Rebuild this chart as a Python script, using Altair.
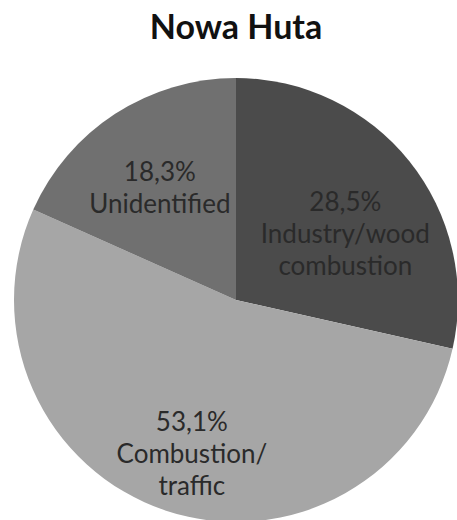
import altair as alt
import pandas as pd

# Source apportionment shares for Nowa Huta (percent)
categories = ["Industry/wood combustion", "Combustion/traffic", "Unidentified"]
label_lines = [["Industry/wood", "combustion"], ["Combustion/", "traffic"], ["Unidentified"]]
shares = [28.5, 53.1, 18.3]
colors = ["#4b4b4b", "#a6a6a6", "#707070"]


def pct(v):
    return f"{v:.1f}".replace(".", ",") + "%"


df = pd.DataFrame({
    "category": categories,
    "share": shares,
    "order": list(range(len(categories))),
    "label": [[pct(v)] + lines for v, lines in zip(shares, label_lines)],
})

W, H = 457, 520
CX, CY, R = 236, 300, 222

base = alt.Chart(df).encode(
    theta=alt.Theta("share:Q", stack=True),
    order=alt.Order("order:Q"),
)

pie = base.mark_arc(outerRadius=R).encode(
    x=alt.value(CX),
    y=alt.value(CY),
    color=alt.Color("category:N", scale=alt.Scale(domain=categories, range=colors), legend=None),
)

labels = base.mark_text(
    radius=140, dy=-10, font="Lato", fontSize=26, lineHeight=32, color="#2a2a2a",
    align="center", baseline="middle",
).encode(
    x=alt.value(CX),
    y=alt.value(CY),
    text="label",
)

title = alt.Chart(pd.DataFrame({"t": ["Nowa Huta"]})).mark_text(
    font="Lato", fontSize=34, fontWeight="bold", color="#111111",
    align="center", baseline="alphabetic",
).encode(x=alt.value(CX), y=alt.value(39), text="t:N")

chart = alt.layer(pie, labels, title).properties(
    width=W, height=H, padding=0, autosize="none",
    background="white",
).configure_view(stroke=None)

chart.save("out.html", embed_options={"renderer": "svg", "actions": False})
